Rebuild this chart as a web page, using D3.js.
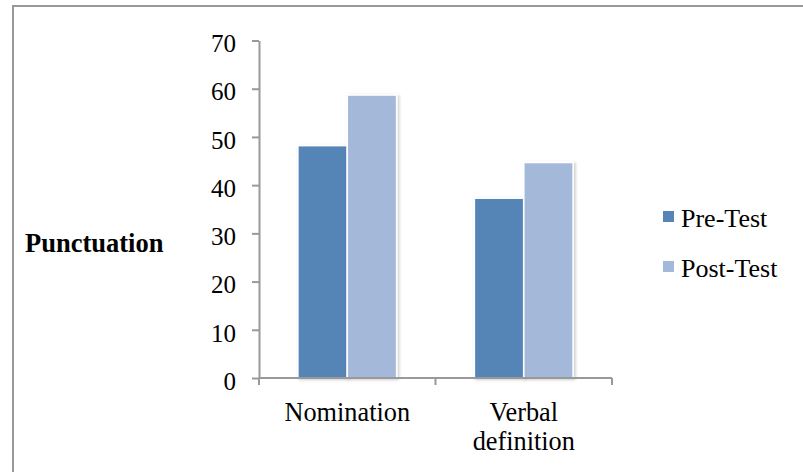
<!DOCTYPE html>
<html>
<head>
<meta charset="utf-8">
<script src="https://cdn.jsdelivr.net/npm/d3@7"></script>
<style>
  html, body { margin: 0; padding: 0; background: #fff; }
  svg { display: block; font-family: "Liberation Serif", "Times New Roman", serif; }
</style>
</head>
<body>
<svg id="chart" width="803" height="472"></svg>
<script>
// Punctuation scores by task, before and after the intervention
const categories = ["Nomination", "Verbal definition"];
const seriesNames = ["Pre-Test", "Post-Test"];
const preTest = [48.2, 37.3];
const postTest = [58.7, 44.7];
const yTicks = [0, 10, 20, 30, 40, 50, 60, 70];
const seriesColors = ["#5584b6", "#a4b8d9"];

const serif = '"Liberation Serif", "Times New Roman", serif';
const svg = d3.select("#chart");

// outer chart frame (only top and left edges fall inside the view)
svg.append("rect")
  .attr("x", 13).attr("y", 6)
  .attr("width", 820).attr("height", 500)
  .attr("fill", "none")
  .attr("stroke", "#999")
  .attr("stroke-width", 2);

const defs = svg.append("defs");
const shadow = defs.append("filter").attr("id", "barShadow")
  .attr("x", "-20%").attr("y", "-20%").attr("width", "140%").attr("height", "140%");
shadow.append("feDropShadow")
  .attr("dx", 1.5).attr("dy", 1).attr("stdDeviation", 1.5)
  .attr("flood-color", "#000").attr("flood-opacity", 0.22);

const plot = { left: 259, right: 612, top: 40.5, bottom: 378 };

const y = d3.scaleLinear().domain([0, 70]).range([plot.bottom, plot.top]);
const x0 = d3.scaleBand().domain(categories).range([plot.left, plot.right]).padding(0);
const bw = x0.bandwidth();
const x1 = d3.scaleBand().domain(seriesNames).range([bw * 0.22, bw * 0.78]).padding(0);

const rows = categories.map((c, i) => ({
  category: c,
  values: [
    { series: seriesNames[0], value: preTest[i] },
    { series: seriesNames[1], value: postTest[i] }
  ]
}));

// bars
const groups = svg.append("g").selectAll("g").data(rows).join("g")
  .attr("transform", d => `translate(${x0(d.category)},0)`);
groups.selectAll("rect").data(d => d.values).join("rect")
  .attr("x", d => x1(d.series))
  .attr("y", d => y(d.value))
  .attr("width", x1.bandwidth())
  .attr("height", d => y(0) - y(d.value))
  .attr("fill", (d, i) => seriesColors[i])
  .attr("stroke", "#fff")
  .attr("stroke-width", 1.6)
  .attr("filter", "url(#barShadow)");

// y axis
const yAxis = svg.append("g")
  .attr("transform", `translate(${plot.left},0)`)
  .call(d3.axisLeft(y).tickValues(yTicks).tickSize(7).tickPadding(16).tickSizeOuter(0))
  .attr("font-family", serif)
  .attr("font-size", 25);
yAxis.select(".domain").attr("stroke", "#999").attr("stroke-width", 2);
yAxis.selectAll(".tick line").attr("stroke", "#999").attr("stroke-width", 2);
yAxis.selectAll(".tick text")
  .attr("fill", "#000")
  .attr("dy", "0.45em");

// x axis with ticks on category boundaries
const xAxisG = svg.append("g").attr("transform", `translate(0,${plot.bottom})`);
xAxisG.append("line")
  .attr("x1", plot.left).attr("x2", plot.right)
  .attr("stroke", "#999").attr("stroke-width", 2);
const boundaries = [plot.left, ...categories.map(c => x0(c) + bw)];
xAxisG.selectAll("line.tick").data(boundaries).join("line")
  .attr("class", "tick")
  .attr("x1", d => d).attr("x2", d => d)
  .attr("y1", 0).attr("y2", 7)
  .attr("stroke", "#999").attr("stroke-width", 2);

// category labels, wrapped one word per line when long
const catLines = { "Nomination": ["Nomination"], "Verbal definition": ["Verbal", "definition"] };
xAxisG.selectAll("text.cat").data(categories).join("text")
  .attr("class", "cat")
  .attr("x", d => x0(d) + bw / 2)
  .attr("y", 43)
  .attr("text-anchor", "middle")
  .attr("font-size", 26.3)
  .attr("fill", "#000")
  .each(function (d) {
    const t = d3.select(this);
    catLines[d].forEach((line, i) => {
      t.append("tspan")
        .attr("x", x0(d) + bw / 2)
        .attr("dy", i === 0 ? 0 : 29)
        .text(line);
    });
  });

// y axis title
svg.append("text")
  .attr("x", 25).attr("y", 252)
  .attr("font-size", 26.5)
  .attr("font-weight", "bold")
  .attr("fill", "#000")
  .text("Punctuation");

// legend
const legend = svg.append("g").selectAll("g").data(seriesNames).join("g")
  .attr("transform", (d, i) => `translate(663,${211 + i * 50})`);
legend.append("rect")
  .attr("width", 11).attr("height", 11)
  .attr("fill", (d, i) => seriesColors[i]);
legend.append("text")
  .attr("x", 18).attr("y", 16)
  .attr("font-size", 26)
  .attr("fill", "#000")
  .text(d => d);
</script>
</body>
</html>
